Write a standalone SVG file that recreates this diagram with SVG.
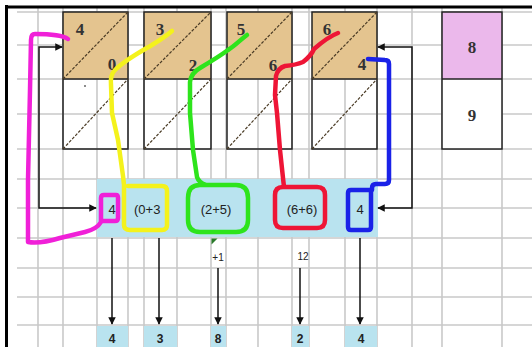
<svg xmlns="http://www.w3.org/2000/svg" width="532" height="347" viewBox="0 0 532 347">
  <style>
    .grid line { stroke: #c9c9c9; stroke-width: 1.6; }
    .box { stroke: #222; stroke-width: 1.5; }
    .tan { fill: #e4c48f; }
    .diag { stroke: #4a3b25; stroke-width: 1.2; stroke-dasharray: 3 1.5; fill: none; }
    .num { font-family: "Liberation Serif", serif; font-size: 17px; font-weight: bold; fill: #333; text-anchor: middle; }
    .cell { font-family: "Liberation Sans", Arial, sans-serif; font-size: 13px; fill: #222; text-anchor: middle; }
    .cell-left { font-family: "Liberation Sans", Arial, sans-serif; font-size: 13px; fill: #222; text-anchor: start; }
    .small { font-family: "Liberation Sans", Arial, sans-serif; font-size: 10px; fill: #222; text-anchor: middle; }
    .res { font-family: "Liberation Sans", Arial, sans-serif; font-size: 12px; font-weight: bold; fill: #222; text-anchor: middle; }
    .conn { stroke: #111; stroke-width: 1.5; fill: none; }
    .pen { fill: none; stroke-width: 4.5; stroke-linecap: round; stroke-linejoin: round; }
    .band { fill: #b9e3ef; }
  </style>
  <defs>
    <marker id="arrow" viewBox="0 0 10 10" refX="9" refY="5" markerWidth="5" markerHeight="5" orient="auto-start-reverse" markerUnits="strokeWidth">
      <path d="M0,0 L10,5 L0,10 z" fill="#111"/>
    </marker>
  </defs>

  <rect width="532" height="347" fill="#fff"/>

  <!-- sheet grid -->
  <g class="grid">
    <line x1="38" y1="8" x2="38" y2="347"/>
    <line x1="63" y1="8" x2="63" y2="347"/>
    <line x1="97" y1="8" x2="97" y2="347"/>
    <line x1="128" y1="8" x2="128" y2="347"/>
    <line x1="144" y1="8" x2="144" y2="347"/>
    <line x1="177" y1="8" x2="177" y2="347"/>
    <line x1="211" y1="8" x2="211" y2="347"/>
    <line x1="226" y1="8" x2="226" y2="347"/>
    <line x1="258" y1="8" x2="258" y2="347"/>
    <line x1="292" y1="8" x2="292" y2="347"/>
    <line x1="309" y1="8" x2="309" y2="347"/>
    <line x1="345" y1="8" x2="345" y2="347"/>
    <line x1="377" y1="8" x2="377" y2="347"/>
    <line x1="412" y1="8" x2="412" y2="347"/>
    <line x1="442" y1="8" x2="442" y2="347"/>
    <line x1="502" y1="8" x2="502" y2="347"/>
    <line x1="17" y1="12" x2="532" y2="12"/>
    <line x1="17" y1="45" x2="532" y2="45"/>
    <line x1="17" y1="79" x2="532" y2="79"/>
    <line x1="17" y1="114" x2="532" y2="114"/>
    <line x1="17" y1="149" x2="532" y2="149"/>
    <line x1="17" y1="179" x2="532" y2="179"/>
    <line x1="17" y1="208" x2="532" y2="208"/>
    <line x1="17" y1="238" x2="532" y2="238"/>
    <line x1="17" y1="268" x2="532" y2="268"/>
    <line x1="17" y1="297" x2="532" y2="297"/>
    <line x1="17" y1="325" x2="532" y2="325"/>
  </g>

  <!-- frame -->
  <line x1="6.5" y1="5" x2="6.5" y2="347" stroke="#000" stroke-width="3"/>
  <line x1="5" y1="7" x2="532" y2="7" stroke="#000" stroke-width="3"/>

  <!-- sum band and result cells -->
  <rect class="band" x="97" y="179" width="281" height="58"/>
  <g id="results">
    <rect class="band" x="97" y="326" width="31" height="21"/>
    <rect class="band" x="144" y="326" width="33" height="21"/>
    <rect class="band" x="211" y="326" width="15" height="21"/>
    <rect class="band" x="292" y="326" width="17" height="21"/>
    <rect class="band" x="345" y="326" width="32" height="21"/>
    <text class="res" x="112" y="343">4</text>
    <text class="res" x="160" y="343">3</text>
    <text class="res" x="218" y="343">8</text>
    <text class="res" x="300" y="343">2</text>
    <text class="res" x="361" y="343">4</text>
  </g>

  <!-- product boxes -->
  <g id="box1">
    <rect class="tan" x="63" y="12" width="65" height="67"/>
    <rect class="box" x="63" y="12" width="65" height="137" fill="none"/>
    <line class="box" x1="63" y1="79" x2="128" y2="79"/>
    <line class="diag" x1="63" y1="79" x2="128" y2="12"/>
    <line class="diag" x1="63" y1="149" x2="128" y2="79"/>
    <text class="num" x="80" y="35">4</text>
    <text class="num" x="112" y="70">0</text>
    <circle cx="85" cy="86" r="1" fill="#666"/>
  </g>
  <g id="box2">
    <rect class="tan" x="144" y="12" width="67" height="67"/>
    <rect class="box" x="144" y="12" width="67" height="137" fill="none"/>
    <line class="box" x1="144" y1="79" x2="211" y2="79"/>
    <line class="diag" x1="144" y1="79" x2="211" y2="12"/>
    <line class="diag" x1="144" y1="149" x2="211" y2="79"/>
    <text class="num" x="160" y="35">3</text>
    <text class="num" x="193" y="71">2</text>
  </g>
  <g id="box3">
    <rect class="tan" x="227" y="12" width="65" height="67"/>
    <rect class="box" x="227" y="12" width="65" height="137" fill="none"/>
    <line class="box" x1="227" y1="79" x2="292" y2="79"/>
    <line class="diag" x1="227" y1="79" x2="292" y2="12"/>
    <line class="diag" x1="227" y1="149" x2="292" y2="79"/>
    <text class="num" x="241" y="35">5</text>
    <text class="num" x="273" y="71">6</text>
  </g>
  <g id="box4">
    <rect class="tan" x="312" y="12" width="65" height="67"/>
    <rect class="box" x="312" y="12" width="65" height="137" fill="none"/>
    <line class="box" x1="312" y1="79" x2="377" y2="79"/>
    <line class="diag" x1="312" y1="79" x2="377" y2="12"/>
    <line class="diag" x1="312" y1="149" x2="377" y2="79"/>
    <text class="num" x="327" y="35">6</text>
    <text class="num" x="362" y="70">4</text>
  </g>
  <g id="answer">
    <rect x="442" y="12" width="60" height="67" fill="#ebb8eb"/>
    <rect x="442" y="79" width="60" height="70" fill="#fff"/>
    <rect class="box" x="442" y="12" width="60" height="137" fill="none"/>
    <line class="box" x1="442" y1="79" x2="502" y2="79"/>
    <text class="num" x="472" y="53">8</text>
    <text class="num" x="472" y="121">9</text>
  </g>

  <!-- sums -->
  <g id="sums">
    <text class="cell" x="112" y="214">4</text>
    <text class="cell-left" x="134" y="214">(0+3</text>
    <text class="cell" x="216" y="214">(2+5)</text>
    <text class="cell" x="302" y="214">(6+6)</text>
    <text class="cell" x="360" y="214">4</text>
  </g>

  <!-- carry notes -->
  <g id="carries">
    <rect x="212" y="239" width="13" height="28" fill="#fff"/>
    <path d="M211.5,238.5 h6 l-6,6 z" fill="#2a7a2a"/>
    <text class="small" x="218" y="261">+1</text>
    <text class="small" x="303" y="260">12</text>
  </g>

  <!-- connectors -->
  <g id="connectors">
    <path class="conn" d="M62,47 H39 V208 H96" marker-start="url(#arrow)" marker-end="url(#arrow)"/>
    <path class="conn" d="M378,47 H412 V208 H378" marker-start="url(#arrow)" marker-end="url(#arrow)"/>
    <path class="conn" d="M112,238 V324" marker-end="url(#arrow)"/>
    <path class="conn" d="M159,238 V324" marker-end="url(#arrow)"/>
    <path class="conn" d="M218,268 V324" marker-end="url(#arrow)"/>
    <path class="conn" d="M300,268 V324" marker-end="url(#arrow)"/>
    <path class="conn" d="M360,238 V324" marker-end="url(#arrow)"/>
  </g>

  <!-- pen strokes grouping the diagonals -->
  <g id="pen-marks">
    <path class="pen" stroke="#f020d8" d="M68,39 C62,35 52,34 35,34 Q31,34 31,40 L30,90 L28,180 L28,242 Q40,244 60,238 L85,232 Q97,229 101,222 L101,198 Q101,195 104,195 L116,195 Q118,195 118,198 L118,218 Q118,221 115,221 L102,221"/>
    <path class="pen" stroke="#f4f21c" d="M172,31 C165,37 160,40 152,45 C140,52 125,60 115,70 Q110,75 111,85 L112,113 L118,140 L123,176 L124,185 L124,225 Q124,230 130,230 L162,230 Q167,230 167,225 L167,191 Q167,186 162,186 L128,186"/>
    <path class="pen" stroke="#2ee41c" d="M247,35 C240,40 236,45 228,50 C220,56 210,62 200,68 Q191,73 190,82 L190,113 L193,150 L197,177 Q199,183 206,185 M200,185 L236,185 Q248,185 248,198 L248,220 Q248,232 236,232 L200,232 Q188,232 188,220 L188,198 Q188,185 200,185"/>
    <path class="pen" stroke="#ee1536" d="M338,33 C330,36 322,42 314,49 Q311,56 303,62 Q296,65 285,66 Q278,68 276,76 L275,95 L277,113 L280,150 L283,178 L284,187 M283,187 L317,187 Q325,187 325,195 L325,220 Q325,228 317,228 L283,228 Q275,228 275,220 L275,195 Q275,187 283,187"/>
    <path class="pen" stroke="#1a22e8" d="M368,59 L385,60 Q389,60 389,64 L389,180 Q389,184 385,184 L376,184 Q372,184 372,188 L372,190 L351,190 Q348,190 348,193 L348,227 Q348,230 351,230 L368,230 Q371,230 371,227 L371,190"/>
  </g>
</svg>
